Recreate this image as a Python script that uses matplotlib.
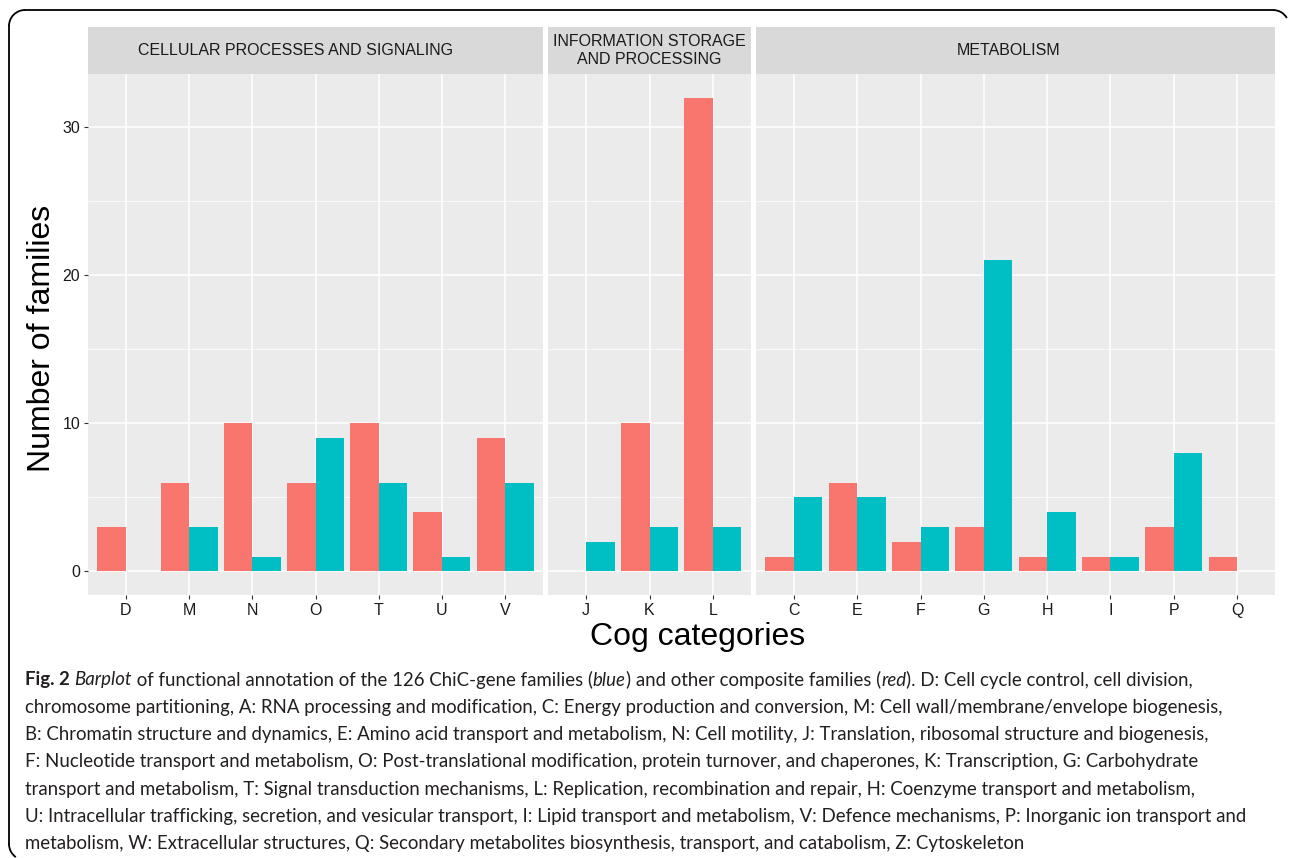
import matplotlib.pyplot as plt
from matplotlib.patches import Arc
from matplotlib.lines import Line2D
from matplotlib.transforms import IdentityTransform

plt.rcParams['font.family'] = ['Liberation Sans', 'DejaVu Sans']

# data
cells = ["D", "M", "N", "O", "T", "U", "V"]
cells_red = [3, 6, 10, 6, 10, 4, 9]
cells_blue = [0, 3, 1, 9, 6, 1, 6]

info = ["J", "K", "L"]
info_red = [0, 10, 32]
info_blue = [2, 3, 3]

meta = ["C", "E", "F", "G", "H", "I", "P", "Q"]
meta_red = [1, 6, 2, 3, 1, 1, 3, 1]
meta_blue = [5, 5, 3, 21, 4, 1, 8, 0]

titoli = ["CELLULAR PROCESSES AND SIGNALING",
          "INFORMATION STORAGE\nAND PROCESSING",
          "METABOLISM"]

caption = [
    [("Fig. 2 ", "bold"), ("Barplot", "italic"), (" of functional annotation of the 126 ChiC-gene families (", "normal"),
     ("blue", "italic"), (") and other composite families (", "normal"), ("red", "italic"),
     ("). D: Cell cycle control, cell division,", "normal")],
    [("chromosome partitioning, A: RNA processing and modification, C: Energy production and conversion, M: Cell wall/membrane/envelope biogenesis,", "normal")],
    [("B: Chromatin structure and dynamics, E: Amino acid transport and metabolism, N: Cell motility, J: Translation, ribosomal structure and biogenesis,", "normal")],
    [("F: Nucleotide transport and metabolism, O: Post-translational modification, protein turnover, and chaperones, K: Transcription, G: Carbohydrate", "normal")],
    [("transport and metabolism, T: Signal transduction mechanisms, L: Replication, recombination and repair, H: Coenzyme transport and metabolism,", "normal")],
    [("U: Intracellular trafficking, secretion, and vesicular transport, I: Lipid transport and metabolism, V: Defence mechanisms, P: Inorganic ion transport and", "normal")],
    [("metabolism, W: Extracellular structures, Q: Secondary metabolites biosynthesis, transport, and catabolism, Z: Cytoskeleton", "normal")],
]

RED = "#F8766D"
BLUE = "#00BFC4"
W, H = 1290, 858

fig = plt.figure(figsize=(W / 100, H / 100), dpi=100)

# frame: only the visible pieces (pixel coords, origin bottom-left)
pix = IdentityTransform()
r = 16
fig.add_artist(Line2D([9 + r, 1289 - r], [H - 10, H - 10], transform=pix, color="black", lw=1.3))
fig.add_artist(Line2D([9, 9], [H - 10 - r, 14], transform=pix, color="black", lw=1.3))
fig.add_artist(Arc((9 + r, H - 10 - r), 2 * r, 2 * r, theta1=90, theta2=180,
                   transform=pix, color="black", lw=1.3))
fig.add_artist(Arc((1289 - r, H - 10 - r), 2 * r, 2 * r, theta1=30, theta2=90,
                   transform=pix, color="black", lw=1.3))
fig.add_artist(Arc((9 + r, 14), 2 * r, 2 * r, theta1=180, theta2=235,
                   transform=pix, color="black", lw=1.3))


def px_axes(x0, x1, y0, y1):
    return fig.add_axes([x0 / W, 1 - y1 / H, (x1 - x0) / W, (y1 - y0) / H])


pannelli = [(88, 543, cells, cells_red, cells_blue),
            (548, 751, info, info_red, info_blue),
            (756, 1275, meta, meta_red, meta_blue)]
centri_strip = [296, 649.5, 1009]  # where the strip texts sit in the reference

for i, (x0, x1, cats, rossi, blu) in enumerate(pannelli):
    ax = px_axes(x0, x1, 74, 595)
    ax.set_facecolor("#EBEBEB")
    pos = list(range(len(cats)))
    ax.bar([p - 0.225 for p in pos], rossi, width=0.45, color=RED, zorder=3)
    ax.bar([p + 0.225 for p in pos], blu, width=0.45, color=BLUE, zorder=3)
    ax.set_xlim(-0.6, len(cats) - 1 + 0.6)
    ax.set_ylim(-1.6, 33.6)
    ax.set_xticks(pos)
    ax.set_xticklabels(cats, fontsize=11.5, color="#1a1a1a")
    ax.set_yticks([0, 10, 20, 30])
    ax.set_yticks([5, 15, 25], minor=True)
    ax.grid(True, which="major", color="white", lw=1.1, zorder=0)
    ax.grid(True, which="minor", axis="y", color="white", lw=0.5, zorder=0)
    ax.tick_params(which="major", length=3, color="#333333", width=0.8)
    ax.tick_params(axis="x", pad=3)
    ax.tick_params(which="minor", length=0)
    for s in ax.spines.values():
        s.set_visible(False)
    if i == 0:
        ax.set_yticklabels(["0", "10", "20", "30"], fontsize=11.5, color="#1a1a1a")
        ax.tick_params(axis="y", pad=2.5)
    else:
        ax.tick_params(axis="y", length=0, labelleft=False)
    # strip
    st = px_axes(x0, x1, 27, 74)
    st.set_facecolor("#D9D9D9")
    st.set_xticks([])
    st.set_yticks([])
    for s in st.spines.values():
        s.set_visible(False)
    fig.text(centri_strip[i] / W, 1 - 50.5 / H, titoli[i], ha="center", va="center",
             fontsize=11.5, color="#1a1a1a", linespacing=1.25)

fig.text(42 / W, 1 - 338 / H, "Number of families", rotation=90, ha="center",
         va="center", fontsize=23)
fig.text(698 / W, 1 - 637 / H, "Cog categories", ha="center", va="center", fontsize=23)

# caption with mixed styles
fig.canvas.draw()
renderer = fig.canvas.get_renderer()
y = 680
for riga in caption:
    x = 25
    for testo, stile in riga:
        kw = dict(fontsize=13.45, family="Lato", color="#231f20", va="center", ha="left")
        if stile == "bold":
            kw["fontweight"] = "bold"
        elif stile == "italic":
            kw["fontstyle"] = "italic"
        t = fig.text(x / W, 1 - y / H, testo, **kw)
        bb = t.get_window_extent(renderer=renderer)
        x += bb.width
    y += 27.3

fig.savefig("out.png", dpi=100)
